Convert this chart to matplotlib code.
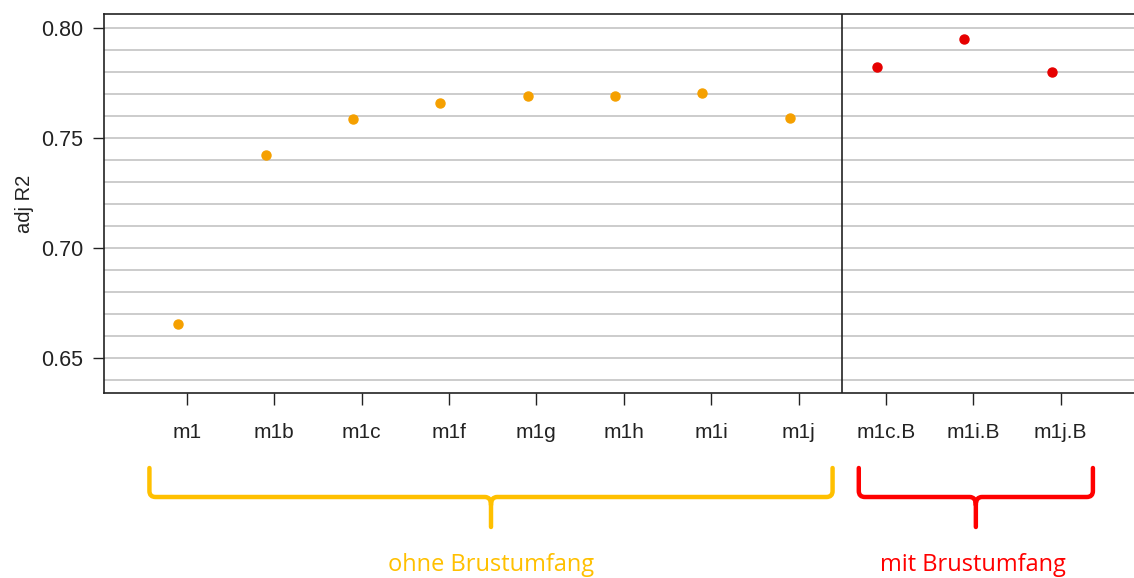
import matplotlib.pyplot as plt
from matplotlib.path import Path
from matplotlib.patches import PathPatch
from matplotlib.transforms import blended_transform_factory
import numpy as np

# models and their adjusted R2
models_ohne = ['m1', 'm1b', 'm1c', 'm1f', 'm1g', 'm1h', 'm1i', 'm1j']
r2_ohne = [0.6655, 0.7423, 0.7586, 0.7659, 0.7691, 0.7691, 0.7705, 0.7590]
models_mit = ['m1c.B', 'm1i.B', 'm1j.B']
r2_mit = [0.7823, 0.7950, 0.7800]

group_labels = ['ohne Brustumfang', 'mit Brustumfang']
point_colors = ['#F5A000', '#E60000']
brace_colors = ['#FFC000', '#FF0000']


def brace(ax, x0, x1, color, y_top=468, y_mid=497, y_tip=527):
    # curly brace opening upward, x in data coords, y in pixels from top
    fig = ax.figure
    H = fig.get_size_inches()[1] * fig.dpi
    fy = lambda p: 1 - p / H
    r = 0.07
    xm = (x0 + x1) / 2
    verts = [
        (x0, fy(y_top)), (x0, fy(y_mid - 6)),
        (x0, fy(y_mid)), (x0 + r, fy(y_mid)),
        (xm - r, fy(y_mid)),
        (xm, fy(y_mid)), (xm, fy(y_mid + 8)),
        (xm, fy(y_tip)),
        (xm, fy(y_mid + 8)), (xm, fy(y_mid)), (xm + r, fy(y_mid)),
        (x1 - r, fy(y_mid)),
        (x1, fy(y_mid)), (x1, fy(y_mid - 6)),
        (x1, fy(y_top)),
    ]
    codes = [Path.MOVETO, Path.LINETO,
             Path.CURVE3, Path.CURVE3,
             Path.LINETO,
             Path.CURVE3, Path.CURVE3,
             Path.LINETO,
             Path.MOVETO, Path.CURVE3, Path.CURVE3,
             Path.LINETO,
             Path.CURVE3, Path.CURVE3,
             Path.LINETO]
    tr = blended_transform_factory(ax.transData, fig.transFigure)
    patch = PathPatch(Path(verts, codes), facecolor='none', edgecolor=color,
                      lw=3.2, transform=tr, clip_on=False, capstyle='round',
                      joinstyle='round')
    fig.add_artist(patch)


plt.rcParams['font.family'] = ['Liberation Sans', 'DejaVu Sans']

fig = plt.figure(figsize=(11.34, 5.78), dpi=100)
ax = fig.add_axes([104 / 1134, 1 - 393 / 578, 1.02 - 104 / 1134, (393 - 14) / 578])

n_ohne = len(models_ohne)
x_ohne = np.arange(n_ohne)
x_mit = np.arange(len(models_mit)) + n_ohne

# horizontal grid every 0.01
for g in np.arange(0.64, 0.805, 0.01):
    ax.axhline(g, color='#C8C8C8', lw=1.3, zorder=0)

off = -0.1
ax.plot(x_ohne + off, r2_ohne, 'o', color=point_colors[0], ms=6.5, zorder=3)
ax.plot(x_mit + off, r2_mit, 'o', color=point_colors[1], ms=6.5, zorder=3)

ax.axvline(n_ohne - 0.5, color='#222222', lw=1.2)

ax.set_xlim(-0.95, 11.1)
ax.set_ylim(0.634, 0.8065)
ax.set_xticks(list(x_ohne) + list(x_mit))
ax.set_xticklabels(models_ohne + models_mit)
ax.set_yticks([0.65, 0.70, 0.75, 0.80])
ax.set_yticklabels(['0.65', '0.70', '0.75', '0.80'])
ax.tick_params(axis='x', length=8.5, width=1, pad=13, labelsize=15, colors='#222222')
ax.tick_params(axis='y', length=8, width=1, pad=7, labelsize=15.5, colors='#222222')
ax.set_ylabel('adj R2', fontsize=14.5, labelpad=5, color='#222222')

for s in ['left', 'top', 'bottom']:
    ax.spines[s].set_color('#222222')
    ax.spines[s].set_linewidth(1.2)
ax.spines['right'].set_visible(False)

# group braces and labels
brace(ax, -0.43, n_ohne - 0.61, brace_colors[0])
brace(ax, n_ohne - 0.31, n_ohne + len(models_mit) - 0.63, brace_colors[1])

tr = blended_transform_factory(ax.transData, fig.transFigure)
ax.text((n_ohne - 1) / 2 - 0.02, 1 - 571 / 578, group_labels[0], transform=tr,
        ha='center', va='baseline', fontsize=17, color=brace_colors[0],
        family=['Open Sans', 'DejaVu Sans'], clip_on=False)
ax.text(n_ohne + (len(models_mit) - 1) / 2, 1 - 571 / 578, group_labels[1], transform=tr,
        ha='center', va='baseline', fontsize=17, color=brace_colors[1],
        family=['Open Sans', 'DejaVu Sans'], clip_on=False)

fig.savefig('out.png', dpi=100)
